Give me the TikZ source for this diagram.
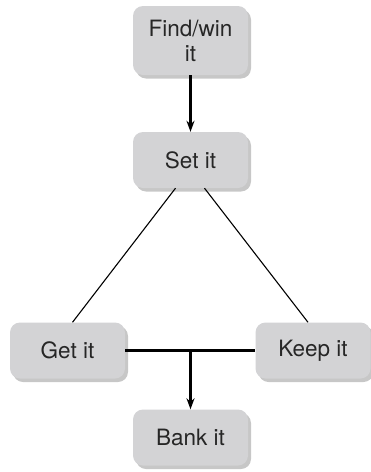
\documentclass[tikz,border=0pt]{standalone}
\usepackage{fontspec}
\setmainfont{TeX Gyre Heros}
\usetikzlibrary{shadows,arrows.meta}
\definecolor{boxgray}{HTML}{D3D3D5}
\begin{document}
\begin{tikzpicture}[x=1pt,y=-1pt,
  box/.style={draw=none,fill=boxgray,rounded corners=10pt,minimum width=115pt,minimum height=56pt,
    inner sep=0pt,align=center,font=\fontsize{22.5}{25}\selectfont,text=black!85,
    drop shadow={shadow xshift=3pt,shadow yshift=-3.5pt,opacity=0.4,fill=black!55}},
  thinline/.style={draw=black,line width=1.1pt},
  thickline/.style={draw=black,line width=2.1pt},
  arr/.style={thickline,-{Stealth[length=11pt,width=8pt,inset=3.5pt]}}]
\useasboundingbox (0,0) rectangle (371,472);
\node[box,minimum height=69pt] (find) at (190.5,40.5) {Find/win\\it};
\node[box] (set) at (190.5,160) {Set it};
\node[box] (get) at (67.5,350.5) {Get it};
\node[box] (keep) at (313,350.5) {Keep it};
\node[box] (bank) at (190.5,437.5) {Bank it};
\draw[arr] (find.south) -- (set.north);
\draw[thinline] ([xshift=-15pt]set.south) -- ([xshift=5pt]get.north);
\draw[thinline] ([xshift=14pt]set.south) -- ([xshift=-5pt]keep.north);
\draw[thickline] (get.east) -- (keep.west);
\coordinate (mid) at (bank.north |- get.east);
\draw[arr] (mid) -- (bank.north);
\end{tikzpicture}
\end{document}
